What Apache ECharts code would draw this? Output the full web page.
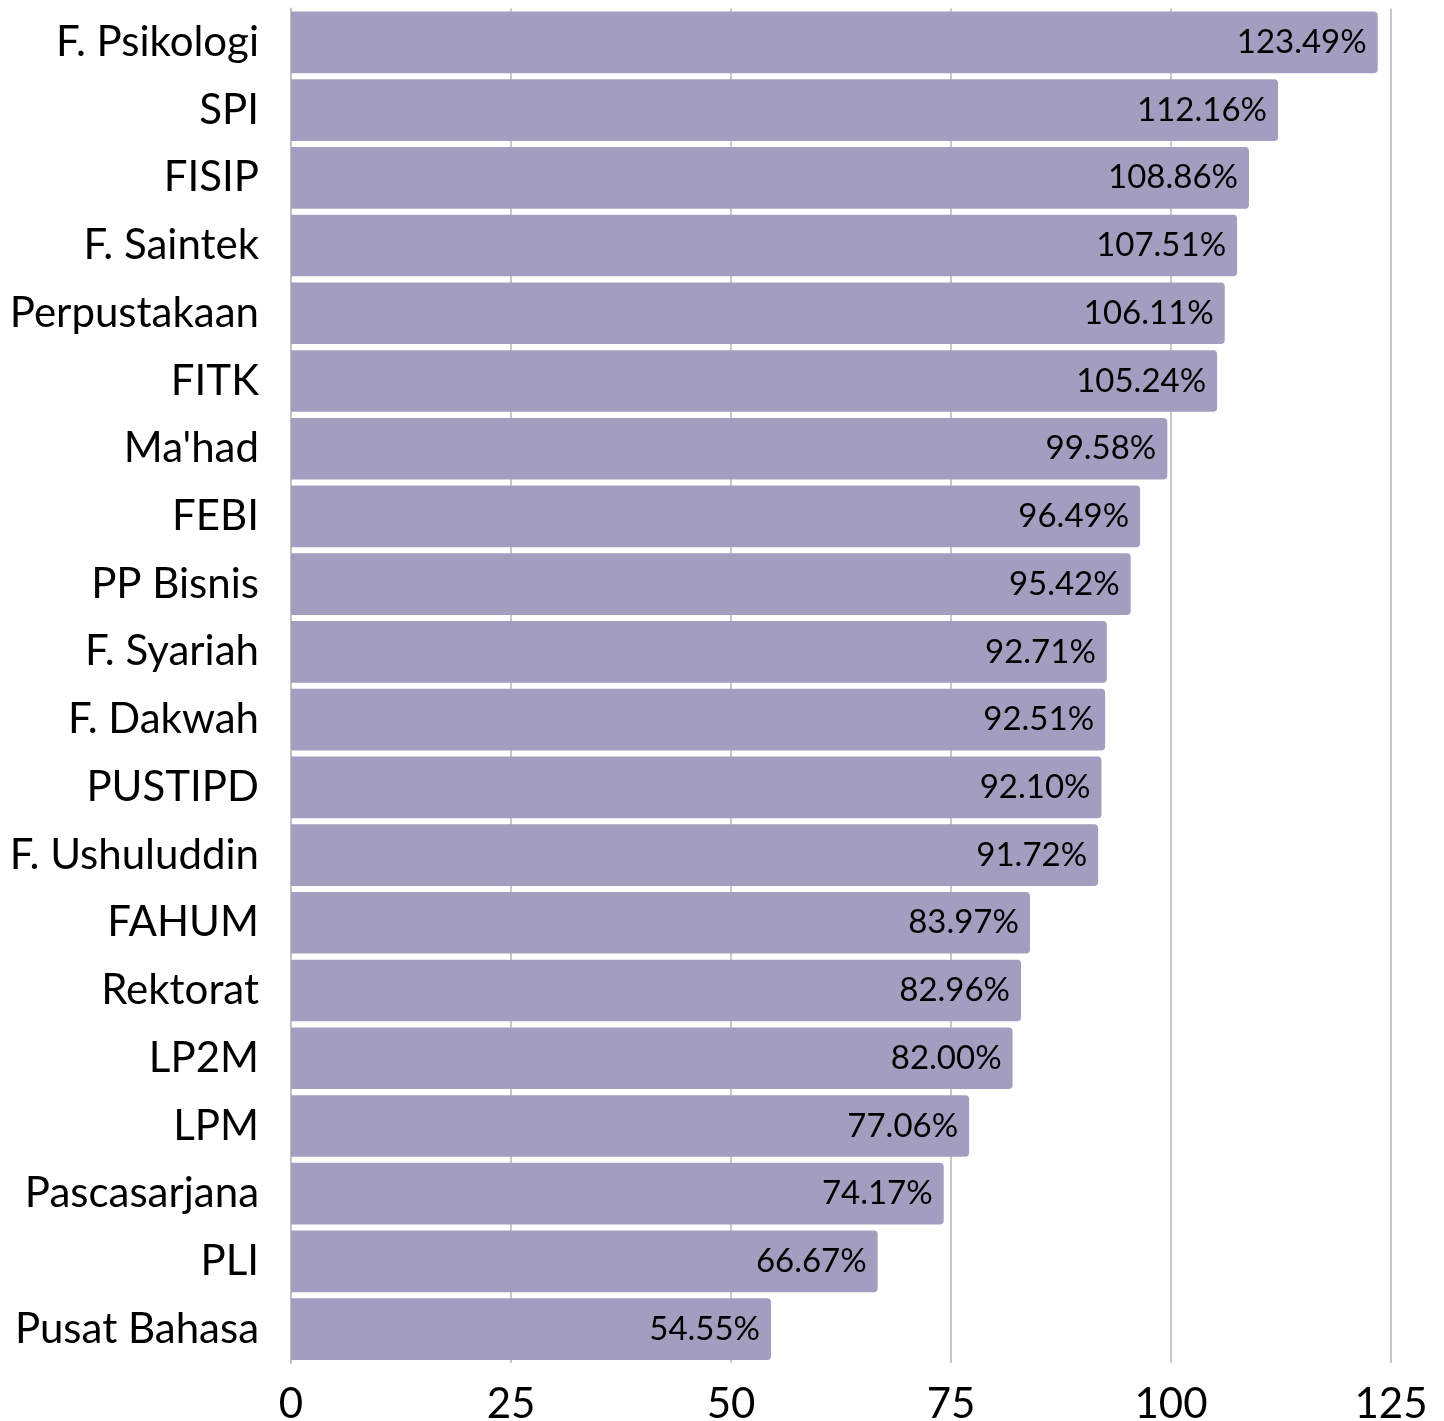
<!DOCTYPE html>
<html>
<head>
<meta charset="utf-8">
<script src="https://cdn.jsdelivr.net/npm/echarts@6/dist/echarts.min.js"></script>
<style>
html,body{margin:0;padding:0;background:#fff;}
#c{width:1444px;height:1421px;}
</style>
</head>
<body>
<div id="c"></div>
<script>
const categories = ["F. Psikologi","SPI","FISIP","F. Saintek","Perpustakaan","FITK","Ma'had","FEBI","PP Bisnis","F. Syariah","F. Dakwah","PUSTIPD","F. Ushuluddin","FAHUM","Rektorat","LP2M","LPM","Pascasarjana","PLI","Pusat Bahasa"];
const values = [123.49,112.16,108.86,107.51,106.11,105.24,99.58,96.49,95.42,92.71,92.51,92.10,91.72,83.97,82.96,82.00,77.06,74.17,66.67,54.55];
const xTicks = [0,25,50,75,100,125];

const chart = echarts.init(document.getElementById('c'), null, {renderer:'canvas'});
chart.setOption({
  animation:false,
  backgroundColor:'#ffffff',
  grid:{left:291,right:53,top:8.5,bottom:58,containLabel:false,outerBoundsMode:'none'},
  xAxis:{
    type:'value',min:xTicks[0],max:xTicks[xTicks.length-1],interval:25,
    axisLine:{show:false},axisTick:{show:false},
    splitLine:{show:true,lineStyle:{color:'#c8c8c8',width:2}},
    axisLabel:{fontFamily:'Lato',fontSize:42,color:'#000',margin:20}
  },
  yAxis:{
    type:'category',data:categories,inverse:true,
    axisLine:{show:true,lineStyle:{color:'#c0c0c0',width:2}},
    axisTick:{show:false},
    splitLine:{show:false},
    axisLabel:{fontFamily:'Lato',fontSize:42,color:'#000',margin:32}
  },
  series:[{
    type:'bar',data:values,barCategoryGap:'9%',
    itemStyle:{color:'#a39ebf',borderRadius:[0,4,4,0]},
    label:{show:true,position:'insideRight',distance:11,
      formatter:p=>p.value.toFixed(2)+'%',
      fontFamily:'Lato',fontSize:33,color:'#000'}
  }]
});
</script>
</body>
</html>
